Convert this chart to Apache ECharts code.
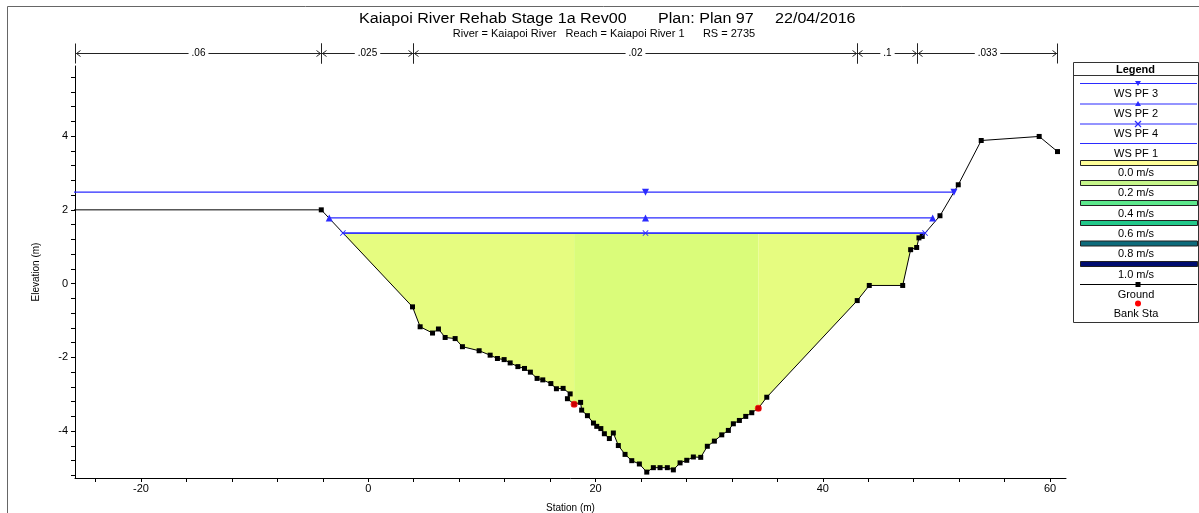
<!DOCTYPE html>
<html>
<head>
<meta charset="utf-8">
<script src="https://cdn.jsdelivr.net/npm/echarts@6/dist/echarts.min.js"></script>
<style>
html,body{margin:0;padding:0;background:#fff;}
#chart{width:1199px;height:513px;}
</style>
</head>
<body>
<div id="chart"></div>
<script>
// ---------------- DATA ----------------
const titleParts = ['Kaiapoi River Rehab Stage 1a Rev00', 'Plan: Plan 97', '22/04/2016'];
const titleSub = 'River = Kaiapoi River   Reach = Kaiapoi River 1      RS = 2735';

const ground = [
  [-26, 2.0], [-4.13, 2.0], [3.90, -0.63], [4.57, -1.17], [5.66, -1.34], [6.18, -1.23],
  [6.77, -1.46], [7.65, -1.49], [8.29, -1.71], [9.76, -1.82], [10.73, -1.94], [11.37, -2.03],
  [11.96, -2.06], [12.49, -2.15], [13.17, -2.25], [13.75, -2.30], [14.27, -2.40], [14.86, -2.57],
  [15.36, -2.61], [16.07, -2.71], [16.56, -2.85], [17.15, -2.84], [17.77, -2.99], [17.53, -3.12],
  [18.12, -3.27], [18.69, -3.22], [18.78, -3.43], [19.29, -3.58], [19.82, -3.78], [20.11, -3.87],
  [20.47, -3.93], [20.78, -4.07], [21.22, -4.20], [21.57, -4.05], [22.01, -4.39], [22.60, -4.63],
  [23.19, -4.80], [23.86, -4.89], [24.51, -5.11], [25.09, -4.99], [25.68, -4.99], [26.32, -4.99],
  [26.85, -5.05], [27.44, -4.86], [28.03, -4.79], [28.61, -4.70], [29.26, -4.71], [29.84, -4.41],
  [30.46, -4.27], [31.11, -4.10], [31.69, -3.98], [32.13, -3.80], [32.66, -3.71], [33.22, -3.60],
  [33.75, -3.50], [34.33, -3.38], [35.07, -3.08], [43.03, -0.46], [44.09, -0.05], [47.03, -0.05],
  [47.73, 0.92], [48.26, 0.98], [48.46, 1.24], [48.75, 1.28], [50.31, 1.84], [51.92, 2.68],
  [53.94, 3.88], [59.04, 3.99], [60.65, 3.58]
];
const bankSta = [[18.12, -3.27], [34.33, -3.38]];

const wsPF3 = [[-26, 2.48], [24.4, 2.48], [51.54, 2.48]];
const wsPF2 = [[-3.43, 1.78], [24.4, 1.78], [49.67, 1.78]];
const wsPF4 = [[-2.23, 1.37], [24.4, 1.37], [49.0, 1.37]];
const wsPF1 = [[-2.23, 1.37], [49.0, 1.37]];

// flow sub-sections (left overbank, channel, right overbank) at WS PF 1
const subSections = [[-2.23, 18.12], [18.12, 34.33], [34.33, 49.0]];

// Manning's n regions
const nBreaks = [-25.8, -4.13, 3.90, 43.03, 48.26, 60.6];
const nValues = ['.06', '.025', '.02', '.1', '.033'];
const nElev = 6.26;

const xLabelValues = [-20, 0, 20, 40, 60];
const xTickValues = [-24, -20, -16, -12, -8, -4, 0, 4, 8, 12, 16, 20, 24, 28, 32, 36, 40, 44, 48, 52, 56, 60];
const yLabelValues = [-4, -2, 0, 2, 4];
const yTickValues = [-5.2, -4.8, -4.4, -4, -3.6, -3.2, -2.8, -2.4, -2, -1.6, -1.2, -0.8, -0.4, 0, 0.4, 0.8, 1.2, 1.6, 2, 2.4, 2.8, 3.2, 3.6, 4, 4.4, 4.8, 5.2, 5.6];

const legendItems = ['WS PF 3', 'WS PF 2', 'WS PF 4', 'WS PF 1', '0.0 m/s', '0.2 m/s', '0.4 m/s', '0.6 m/s', '0.8 m/s', '1.0 m/s', 'Ground', 'Bank Sta'];

// ---------------- STYLE ----------------
const FONT = 'Liberation Sans, Arial, sans-serif';
const wsColor = '#2b2bff';
const fillColors = ['#e6fc80', '#dafc7a', '#e6fc80'];
const velColors = ['#ffff99', '#c6f58a', '#5ce88c', '#22c88a', '#0d6b7b', '#000d70'];
const xSymbol = 'path://M0,1L1,0L5,4L9,0L10,1L6,5L10,9L9,10L5,6L1,10L0,9L4,5Z';

const chart = echarts.init(document.getElementById('chart'), null, {renderer: 'canvas'});

function wsSeries(name, data, symbol, rotate) {
  return {
    name: name, type: 'line', data: data, z: 4,
    symbol: symbol || 'none', symbolSize: symbol === xSymbol ? 6 : 7, symbolRotate: rotate || 0,
    showSymbol: !!symbol,
    lineStyle: {color: wsColor, width: 1.2},
    itemStyle: {color: wsColor},
    animation: false, silent: true
  };
}

// legend graphic
const lg = [];
const LX = 1073, LW = 125, LTOP = 62, LBOT = 322;
lg.push({type: 'rect', shape: {x: LX + 0.5, y: LTOP + 0.5, width: LW, height: LBOT - LTOP}, style: {fill: '#fff', stroke: '#333', lineWidth: 1}});
lg.push({type: 'text', style: {text: 'Legend', x: LX + LW / 2, y: 69.5, align: 'center', verticalAlign: 'middle', font: 'bold 11px ' + FONT, fill: '#000'}});
lg.push({type: 'line', shape: {x1: LX, y1: 75.5, x2: LX + LW, y2: 75.5}, style: {stroke: '#333', lineWidth: 1}});
const symY = [83.5, 104, 124, 143.5, 163, 183, 203, 223, 243.5, 264, 284.5, 303.5];
const txtY = [93.5, 114, 133.5, 153.5, 172.5, 193, 213.5, 234, 254, 274.5, 294.5, 313.5];
const LX1 = 1080, LX2 = 1197, LC = 1138;
legendItems.forEach((name, i) => {
  const y = symY[i];
  if (i < 4) {
    lg.push({type: 'line', shape: {x1: LX1, y1: y, x2: LX2, y2: y}, style: {stroke: wsColor, lineWidth: 1.2}});
  } else if (i < 10) {
    lg.push({type: 'rect', shape: {x: LX1 + 0.5, y: y - 2.5, width: LX2 - LX1, height: 5}, style: {fill: velColors[i - 4], stroke: '#222', lineWidth: 1}});
  } else if (i === 10) {
    lg.push({type: 'line', shape: {x1: LX1, y1: y, x2: LX2, y2: y}, style: {stroke: '#000', lineWidth: 1}});
    lg.push({type: 'rect', shape: {x: LC - 2.5, y: y - 2.5, width: 5, height: 5}, style: {fill: '#000'}});
  } else {
    lg.push({type: 'circle', shape: {cx: LC, cy: y, r: 3}, style: {fill: '#ff0000'}});
  }
  lg.push({type: 'text', style: {text: name, x: LC - 2, y: txtY[i], align: 'center', verticalAlign: 'middle', font: '11px ' + FONT, fill: '#000'}});
});
// WS symbols in legend
lg.push({type: 'polygon', shape: {points: [[LC - 3, 81], [LC + 3, 81], [LC, 86]]}, style: {fill: wsColor}});
lg.push({type: 'polygon', shape: {points: [[LC - 3, 106], [LC + 3, 106], [LC, 101]]}, style: {fill: wsColor}});
lg.push({type: 'line', shape: {x1: LC - 3, y1: 121, x2: LC + 3, y2: 127}, style: {stroke: wsColor, lineWidth: 1.2}});
lg.push({type: 'line', shape: {x1: LC + 3, y1: 121, x2: LC - 3, y2: 127}, style: {stroke: wsColor, lineWidth: 1.2}});

const titleLeft = [359, 658, 775];
const titleEls = titleParts.map((t, i) => ({
  type: 'text', x: titleLeft[i], y: 19.5, scaleX: 1.15,
  style: {text: t, x: 0, y: 0, align: 'left', verticalAlign: 'middle', font: '14px ' + FONT, fill: '#000'}
}));

const option = {
  animation: false,
  backgroundColor: '#fff',
  graphic: [
    {type: 'line', shape: {x1: 7.5, y1: 6.5, x2: 1199, y2: 6.5}, style: {stroke: '#666', lineWidth: 1}, silent: true},
    {type: 'line', shape: {x1: 7.5, y1: 6.5, x2: 7.5, y2: 513}, style: {stroke: '#666', lineWidth: 1}, silent: true},
    ...titleEls,
    {type: 'text', style: {text: titleSub, x: 604, y: 34, align: 'center', verticalAlign: 'middle', font: '11px ' + FONT, fill: '#000'}},
    ...lg
  ],
  grid: {left: 75, right: 133, top: 66, bottom: 35, containLabel: false, outerBoundsMode: 'none'},
  xAxis: {
    type: 'value', min: -25.8, max: 61.4,
    name: 'Station (m)', nameLocation: 'middle', nameGap: 25,
    nameTextStyle: {fontFamily: FONT, fontSize: 10, color: '#000'},
    axisLine: {show: true, onZero: false, lineStyle: {color: '#000', width: 1}},
    axisTick: {show: true, inside: false, length: 4, customValues: xTickValues, lineStyle: {color: '#000'}},
    axisLabel: {customValues: xLabelValues, fontFamily: FONT, fontSize: 11, color: '#000', margin: 5},
    splitLine: {show: false}
  },
  yAxis: {
    type: 'value', min: -5.27, max: 5.9,
    name: 'Elevation (m)', nameLocation: 'middle', nameGap: 34, nameRotate: 90,
    nameTextStyle: {fontFamily: FONT, fontSize: 10, color: '#000'},
    axisLine: {show: true, onZero: false, lineStyle: {color: '#000', width: 1}},
    axisTick: {show: true, inside: false, length: 4, customValues: yTickValues, lineStyle: {color: '#000'}},
    axisLabel: {customValues: yLabelValues, fontFamily: FONT, fontSize: 11, color: '#000', margin: 7},
    splitLine: {show: false}
  },
  series: [
    {
      name: 'fill', type: 'custom', z: 1, silent: true,
      data: subSections,
      encode: {x: [0, 1]},
      renderItem: function (params, api) {
        const a = api.value(0), b = api.value(1), ws = wsPF1[0][1];
        const pts = [[a, ws]];
        ground.forEach(p => { if (p[0] >= a && p[0] <= b) pts.push(p); });
        pts.push([b, ws]);
        return {type: 'polygon', shape: {points: pts.map(p => api.coord(p))}, style: {fill: fillColors[params.dataIndex]}};
      }
    },
    {
      name: 'nvalues', type: 'custom', z: 5, silent: true, clip: false,
      data: nValues.map((v, i) => [nBreaks[i], nBreaks[i + 1], nElev]),
      encode: {x: [0, 1], y: 2},
      renderItem: function (params, api) {
        const p1 = api.coord([api.value(0), api.value(2)]);
        const p2 = api.coord([api.value(1), api.value(2)]);
        const y = Math.round(p1[1]) + 0.5;
        const x1 = Math.round(p1[0]) + 0.5, x2 = Math.round(p2[0]) + 0.5;
        const st = {stroke: '#222', lineWidth: 1, fill: null};
        return {
          type: 'group', children: [
            {type: 'line', shape: {x1: x1, y1: y, x2: x2, y2: y}, style: st},
            {type: 'line', shape: {x1: x1, y1: y - 10, x2: x1, y2: y + 10}, style: st},
            {type: 'line', shape: {x1: x2, y1: y - 10, x2: x2, y2: y + 10}, style: st},
            {type: 'polyline', shape: {points: [[x1 + 5, y - 3], [x1 + 1, y], [x1 + 5, y + 3]]}, style: st},
            {type: 'polyline', shape: {points: [[x2 - 5, y - 3], [x2 - 1, y], [x2 - 5, y + 3]]}, style: st},
            {type: 'text', style: {text: nValues[params.dataIndex], x: (x1 + x2) / 2, y: y, align: 'center', verticalAlign: 'middle',
              font: '10px ' + FONT, fill: '#000', backgroundColor: '#fff', padding: [0, 3]}}
          ]
        };
      }
    },
    {
      name: 'Ground', type: 'line', data: ground, z: 3,
      symbol: 'rect', symbolSize: 5, showSymbol: true,
      lineStyle: {color: '#000', width: 1}, itemStyle: {color: '#000'}, silent: true
    },
    wsSeries('WS PF 3', wsPF3, 'triangle', 180),
    wsSeries('WS PF 2', wsPF2, 'triangle', 0),
    wsSeries('WS PF 4', wsPF4, xSymbol, 0),
    wsSeries('WS PF 1', wsPF1, null, 0),
    {
      name: 'Bank Sta', type: 'scatter', data: bankSta, z: 6,
      symbol: 'circle', symbolSize: 7, itemStyle: {color: '#ff0000'}, silent: true
    }
  ]
};
chart.setOption(option);
</script>
</body>
</html>
